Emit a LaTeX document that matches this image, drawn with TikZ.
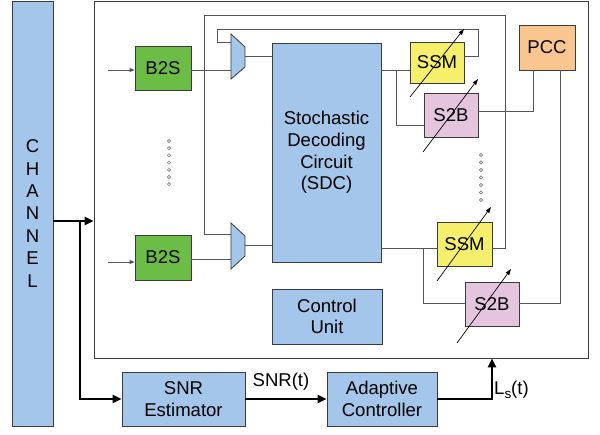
\documentclass[tikz,border=0pt]{standalone}
\usepackage{fontspec}
\setmainfont{Liberation Sans}
\usetikzlibrary{arrows.meta}
\definecolor{chblue}{HTML}{A4C6EA}
\definecolor{bgreen}{HTML}{6CBD45}
\definecolor{syellow}{HTML}{F5EF6B}
\definecolor{spink}{HTML}{E5C4DE}
\definecolor{porange}{HTML}{FBC590}
\definecolor{wire}{HTML}{555555}
\definecolor{edge}{HTML}{3A3A3A}
\tikzset{
  blk/.style={draw=edge, line width=0.8bp, inner sep=0pt, align=center,
    font=\fontsize{18.6}{21.7}\selectfont},
  wireline/.style={draw=wire, line width=0.9bp},
  thinarrow/.style={wireline, -{Triangle[length=5bp,width=4bp]}},
  thickarrow/.style={draw=black, line width=2.6bp, -{Triangle[length=9bp,width=8bp]}},
  slash/.style={draw=black, line width=0.7bp, -{Triangle[length=6bp,width=4bp]}},
  dotmark/.style={draw=gray, line width=0.6bp},
  lbl/.style={font=\fontsize{18.6}{21}\selectfont, inner sep=0pt},
}
\begin{document}
\begin{tikzpicture}[x=1bp, y=-1bp]
\useasboundingbox (0,0) rectangle (600,435);

% channel column and decoder frame
\node[blk, fill=chblue, minimum width=41bp, minimum height=425bp,
      font=\fontsize{18.6}{22.5}\selectfont] (chan) at (32.5,213.5)
      {C\\H\\A\\N\\N\\E\\L};
\node[draw=edge, line width=0.8bp, minimum width=494bp, minimum height=357bp,
      inner sep=0pt] (frame) at (341,179.5) {};

% bit-to-stochastic converters
\node[blk, fill=bgreen, minimum width=56bp, minimum height=44bp] (b2sA) at (163,68) {B2S};
\node[blk, fill=bgreen, minimum width=56bp, minimum height=45bp] (b2sB) at (163,257.5) {B2S};

% decoding core and control
\node[blk, fill=chblue, minimum width=109bp, minimum height=219bp] (sdc) at (326.5,152.5)
      {Stochastic\\Decoding\\Circuit\\(SDC)};
\node[blk, fill=chblue, minimum width=110bp, minimum height=55bp] (cu) at (327,316.5)
      {Control\\Unit};

% output stages
\node[blk, fill=syellow, minimum width=54bp, minimum height=41bp] (ssmA) at (437,62.5) {SSM};
\node[blk, fill=spink, minimum width=54bp, minimum height=44bp] (s2bA) at (451,115) {S2B};
\node[blk, fill=porange, minimum width=56bp, minimum height=45bp] (pcc) at (547,47.5) {PCC};
\node[blk, fill=syellow, minimum width=55bp, minimum height=44bp] (ssmB) at (464.5,244) {SSM};
\node[blk, fill=spink, minimum width=54bp, minimum height=44bp] (s2bB) at (492,304) {S2B};

% estimator chain
\node[blk, fill=chblue, minimum width=123bp, minimum height=54bp] (snr) at (183.5,399)
      {SNR\\Estimator};
\node[blk, fill=chblue, minimum width=110bp, minimum height=54bp] (adc) at (382,399)
      {Adaptive\\Controller};

% multiplexers
\draw[draw=edge, line width=0.8bp, fill=chblue] (231,34) -- (245,47) -- (245,67) -- (231,79) -- cycle;
\draw[draw=edge, line width=0.8bp, fill=chblue] (231,223) -- (245,236) -- (245,256) -- (231,269) -- cycle;
\coordinate (muxAfb) at (231,42);
\coordinate (muxAin) at (231,70);
\coordinate (muxAout) at (245,56);
\coordinate (muxBfb) at (231,234);
\coordinate (muxBin) at (231,259);
\coordinate (muxBout) at (245,245);

% inputs to converters
\coordinate (inA) at (108,70);
\coordinate (inB) at (108,262);
\draw[thinarrow] (inA) -- (inA -| b2sA.west);
\draw[thinarrow] (inB) -- (inB -| b2sB.west);

% converters to multiplexers to core
\draw[wireline] (muxAin -| b2sA.east) -- (muxAin);
\draw[wireline] (muxBin -| b2sB.east) -- (muxBin);
\draw[wireline] (muxAout) -- (muxAout -| sdc.west);
\draw[wireline] (muxBout) -- (muxBout -| sdc.west);

% upper output path
\coordinate (oA) at (381,70);
\draw[wireline] (oA) -- (oA -| ssmA.west);
\draw[wireline] (396,70) |- (s2bA.west |- 0,125);
\draw[wireline] (ssmA.east |- 0,56) -| (478,29) -| (217,42) -- (muxAfb);
\draw[wireline] (s2bA.east |- 0,111) -| (533,0 |- pcc.south);

% lower output path
\coordinate (oB) at (381,248);
\draw[wireline] (oB) -- (oB -| ssmB.west);
\draw[wireline] (423,248) |- (s2bB.west |- 0,303);
\draw[wireline] (ssmB.east |- 0,248) -| (505,15) -| (204,234) -- (muxBfb);
\draw[wireline] (560,0 |- pcc.south) |- (s2bB.east |- 0,303);

% variable-length markers
\draw[slash] (410,97) -- (464,29);
\draw[slash] (423,152) -- (478,79);
\draw[slash] (437,281) -- (491,207);
\draw[slash] (457,343) -- (511,269);

% ellipsis dots
\foreach \k in {0,...,6} {
  \draw[dotmark] (169,141+7.2*\k) circle (1.6bp);
  \draw[dotmark] (481,155+7.5*\k) circle (1.6bp);
}

% channel distribution and adaptation loop
\coordinate (split) at (80,221);
\draw[thickarrow] (chan.east |- split) -- (frame.west |- split);
\draw[thickarrow] (split) |- (snr.west);
\draw[thickarrow] (snr.east) -- (adc.west);
\coordinate (ret) at (492,399);
\draw[thickarrow] (adc.east) -- (ret) -- (ret |- frame.south);

\node[lbl] (snrlbl) at (281,382) {SNR(t)};
\node[lbl, anchor=west] (lslbl) at (494,390)
  {L\raisebox{-4bp}{\fontsize{13.5}{14}\selectfont s}(t)};
\end{tikzpicture}
\end{document}
